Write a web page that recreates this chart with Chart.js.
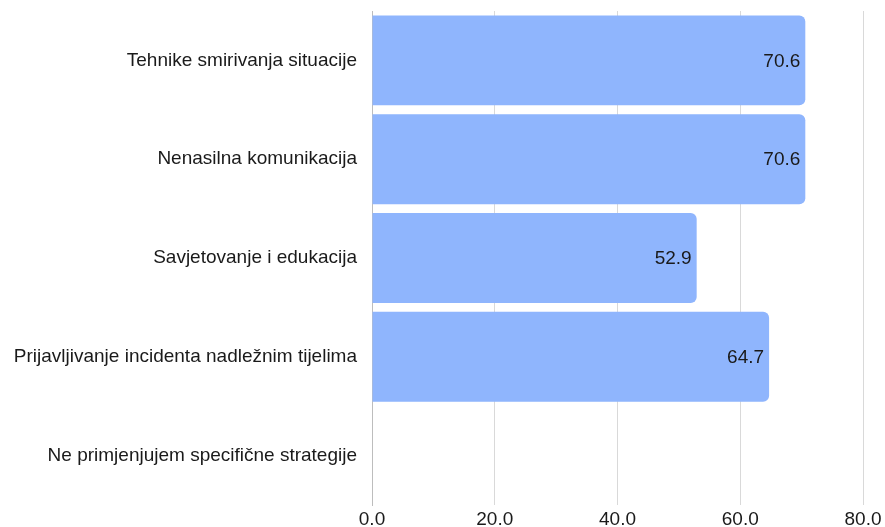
<!DOCTYPE html>
<html>
<head>
<meta charset="utf-8">
<script src="https://cdn.jsdelivr.net/npm/chart.js@4"></script>
<style>
  html, body { margin: 0; padding: 0; background: #fff; }
  #wrap { width: 885px; height: 527px; }
</style>
</head>
<body>
<div id="wrap"><canvas id="our-chart"></canvas></div>
<script>
// Data
const categories = [
  'Tehnike smirivanja situacije',
  'Nenasilna komunikacija',
  'Savjetovanje i edukacija',
  'Prijavljivanje incidenta nadležnim tijelima',
  'Ne primjenjujem specifične strategije'
];
const values = [70.6, 70.6, 52.9, 64.7, 0];
const xTicks = [0, 20, 40, 60, 80];

const FONT = '"Liberation Sans", Arial, sans-serif';

// value labels at the end of each bar
const barLabels = {
  id: 'barLabels',
  afterDatasetsDraw(chart) {
    const ctx = chart.ctx;
    const meta = chart.getDatasetMeta(0);
    ctx.save();
    ctx.font = '19px ' + FONT;
    ctx.fillStyle = '#1a1a1a';
    ctx.textAlign = 'right';
    ctx.textBaseline = 'middle';
    meta.data.forEach((bar, i) => {
      if (!values[i]) return;
      ctx.fillText(values[i].toFixed(1), bar.x - 5, bar.y + 1);
    });
    ctx.restore();
  }
};

const ctx = document.getElementById('our-chart').getContext('2d');
const myChart = new Chart(ctx, {
  type: 'bar',
  data: {
    labels: categories,
    datasets: [{
      data: values,
      backgroundColor: '#8fb5fd',
      borderRadius: { topRight: 6, bottomRight: 6 },
      borderSkipped: false,
      barPercentage: 0.91,
      categoryPercentage: 1
    }]
  },
  options: {
    indexAxis: 'y',
    responsive: true,
    maintainAspectRatio: false,
    animation: false,
    layout: { padding: { top: 11, right: 22, left: 0, bottom: 0 } },
    plugins: {
      legend: { display: false },
      tooltip: { enabled: false }
    },
    scales: {
      x: {
        min: 0,
        max: 80,
        afterBuildTicks(axis) {
          axis.ticks = xTicks.map(v => ({ value: v }));
        },
        afterFit(axis) {
          axis.height = 22;
          axis.paddingLeft = 0;
          axis.paddingRight = 0;
        },
        grid: { color: '#d9d9d9', drawTicks: false },
        border: { display: false },
        ticks: {
          color: '#1a1a1a',
          padding: 5,
          font: { family: FONT, size: 19, lineHeight: 1 },
          callback: v => v.toFixed(1)
        }
      },
      y: {
        afterFit(axis) {
          axis.width = 372;
          axis.paddingTop = 0;
          axis.paddingBottom = 0;
        },
        grid: { display: false, drawTicks: false },
        border: { display: true, color: '#bdbdbd' },
        ticks: {
          color: '#1a1a1a',
          padding: 15,
          font: { family: FONT, size: 19 }
        }
      }
    }
  },
  plugins: [barLabels]
});
</script>
</body>
</html>
